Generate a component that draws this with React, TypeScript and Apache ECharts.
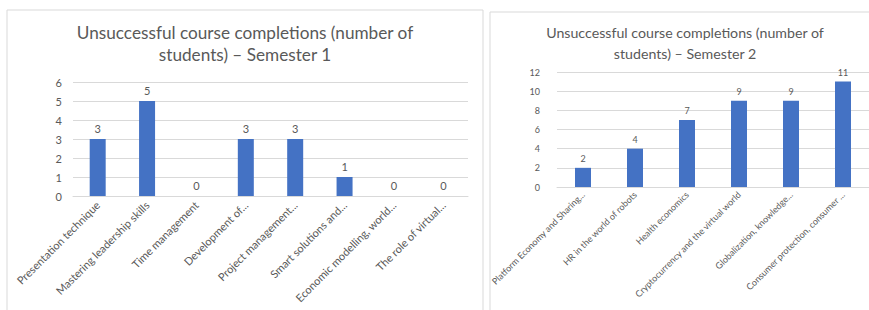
import React, { useEffect, useRef } from "react";
import * as echarts from "echarts";

const sem1Categories = [
  "Presentation technique",
  "Mastering leadership skills",
  "Time management",
  "Development of...",
  "Project management...",
  "Smart solutions and...",
  "Economic modelling, world...",
  "The role of virtual...",
];
const sem1Values = [3, 5, 0, 3, 3, 1, 0, 0];

const sem2Categories = [
  "Platform Economy and Sharing...",
  "HR in the world of robots",
  "Health economics",
  "Cryptocurrency and the virtual world",
  "Globalization, knowledge...",
  "Consumer protection, consumer ...",
];
const sem2Values = [2, 4, 7, 9, 9, 11];

const title1 = ["Unsuccessful course completions (number of", "students) \u2013 Semester 1"];
const title2 = ["Unsuccessful course completions (number of", "students) \u2013 Semester 2"];

const FONT = "Lato, 'Open Sans', sans-serif";
const GRAY = "#595959";
const GRID = "#d9d9d9";
const BAR = "#4472C4";

export default function App() {
  const ref = useRef<HTMLDivElement>(null);
  useEffect(() => {
    if (!ref.current) return;
    const chart = echarts.init(ref.current, undefined, { renderer: "svg" });
    chart.setOption({
      animation: false,
      backgroundColor: "#ffffff",
      graphic: [
        { type: "rect", shape: { x: 7, y: 10, width: 476, height: 320 }, style: { fill: "none", stroke: "#d9d9d9", lineWidth: 1 } },
        { type: "rect", shape: { x: 490, y: 12, width: 400, height: 320 }, style: { fill: "none", stroke: "#d9d9d9", lineWidth: 1 } },
        { type: "text", x: 245, y: 32, style: { text: title1[0], textAlign: "center", textVerticalAlign: "middle", fill: GRAY, font: `17.2px ${FONT}` } },
        { type: "text", x: 245, y: 54, style: { text: title1[1], textAlign: "center", textVerticalAlign: "middle", fill: GRAY, font: `17.2px ${FONT}` } },
        { type: "text", x: 685, y: 32, style: { text: title2[0], textAlign: "center", textVerticalAlign: "middle", fill: GRAY, font: `14.2px ${FONT}` } },
        { type: "text", x: 685, y: 53, style: { text: title2[1], textAlign: "center", textVerticalAlign: "middle", fill: GRAY, font: `14.2px ${FONT}` } },
      ],
      grid: [
        { left: 73, right: 401, top: 82, bottom: 114, containLabel: false },
        { left: 557, right: 0, top: 72, bottom: 123, containLabel: false },
      ],
      xAxis: [
        {
          type: "category",
          gridIndex: 0,
          data: sem1Categories,
          axisLine: { lineStyle: { color: GRID } },
          axisTick: { show: false },
          axisLabel: { rotate: 45, interval: 0, color: GRAY, fontSize: 11, fontFamily: FONT, margin: 7 },
        },
        {
          type: "category",
          gridIndex: 1,
          data: sem2Categories,
          axisLine: { lineStyle: { color: GRID } },
          axisTick: { show: false },
          axisLabel: { rotate: 45, interval: 0, color: GRAY, fontSize: 9, fontFamily: FONT, margin: 6 },
        },
      ],
      yAxis: [
        {
          type: "value",
          gridIndex: 0,
          min: 0,
          max: 6,
          interval: 1,
          axisLine: { show: false },
          axisTick: { show: false },
          splitLine: { lineStyle: { color: GRID } },
          axisLabel: { color: GRAY, fontSize: 11, fontFamily: FONT, margin: 11 },
        },
        {
          type: "value",
          gridIndex: 1,
          min: 0,
          max: 12,
          interval: 2,
          axisLine: { show: false },
          axisTick: { show: false },
          splitLine: { lineStyle: { color: GRID } },
          axisLabel: { color: GRAY, fontSize: 9, fontFamily: FONT, margin: 17 },
        },
      ],
      series: [
        {
          type: "bar",
          xAxisIndex: 0,
          yAxisIndex: 0,
          data: sem1Values,
          barWidth: 16,
          itemStyle: { color: BAR },
          label: { show: true, position: "top", distance: 5, color: GRAY, fontSize: 11, fontFamily: FONT },
        },
        {
          type: "bar",
          xAxisIndex: 1,
          yAxisIndex: 1,
          data: sem2Values,
          barWidth: 16,
          itemStyle: { color: BAR },
          label: { show: true, position: "top", distance: 5, color: GRAY, fontSize: 9, fontFamily: FONT },
        },
      ],
    });
    return () => chart.dispose();
  }, []);
  return (
    <div
      ref={ref}
      style={{ position: "absolute", left: 0, top: 0, width: 869, height: 310, background: "#fff" }}
    />
  );
}
